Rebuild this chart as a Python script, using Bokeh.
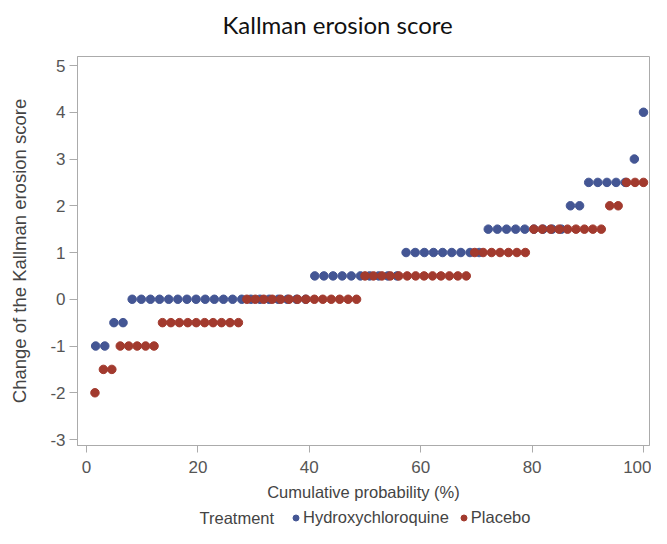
from bokeh.plotting import figure
from bokeh.layouts import column
from bokeh.models import Range1d, Legend, LegendItem, FixedTicker, Label
from bokeh.embed import file_html
from bokeh.resources import INLINE

# Data: sorted change scores per treatment, as (level, count)
hcq_levels = [-1, -0.5, 0, 0.5, 1, 1.5, 2, 2.5, 3, 4]
hcq_counts = [2, 2, 20, 10, 9, 9, 2, 5, 1, 1]
pbo_levels = [-2, -1.5, -1, -0.5, 0, 0.5, 1, 1.5, 2, 2.5]
pbo_counts = [1, 2, 5, 10, 14, 13, 7, 9, 2, 3]
x_ticks = [0, 20, 40, 60, 80, 100]
y_ticks = [-3, -2, -1, 0, 1, 2, 3, 4, 5]
y_tick_labels = ["-3", "-2", "-1", "0", "1", "2", "3", "4", "5"]
series_names = ["Hydroxychloroquine", "Placebo"]
chart_title = "Kallman erosion score"

BLUE = "#445694"
RED = "#A23A2E"
GREY = "#ABABAB"
TXT = "#444444"


def ecdf(levels, counts):
    vals = []
    for lv, c in zip(levels, counts):
        vals.extend([lv] * c)
    n = len(vals)
    xs = [100.0 * (i + 1) / n for i in range(n)]
    return xs, vals


hx, hy = ecdf(hcq_levels, hcq_counts)
px, py = ecdf(pbo_levels, pbo_counts)

W = 651


def strip(height):
    f = figure(width=W, height=height, output_backend="svg", toolbar_location=None,
               x_range=Range1d(0, 1), y_range=Range1d(0, 1),
               x_axis_location=None, y_axis_location=None,
               min_border=0, min_border_left=0, min_border_right=0,
               min_border_top=0, min_border_bottom=0)
    f.xgrid.visible = False
    f.ygrid.visible = False
    f.outline_line_color = None
    f.border_fill_color = "white"
    return f


# title strip (frames in the column are aligned with the chart's frame)
tt = strip(40)
tt.add_layout(Label(x=145, y=16, x_units="screen", y_units="screen", text=chart_title,
                    text_font="Lato", text_font_size="24px", text_color="#111111",
                    text_baseline="middle"))

p = figure(width=W, height=465, output_backend="svg", toolbar_location=None,
           x_range=Range1d(-1.62, 101.08), y_range=Range1d(-3.128, 5.193),
           min_border_left=77, min_border_right=2, min_border_top=16, min_border_bottom=60)

p.scatter(hx, hy, size=8.5, color=BLUE, line_color=BLUE)
p.scatter(px, py, size=8.5, color=RED, line_color=RED)

p.xgrid.visible = False
p.ygrid.visible = False
p.outline_line_color = GREY
p.background_fill_color = "white"
p.border_fill_color = "white"

for ax in (p.xaxis[0], p.yaxis[0]):
    ax.axis_line_color = GREY
    ax.major_tick_line_color = GREY
    ax.minor_tick_line_color = None
    ax.major_tick_in = 0
    ax.major_label_text_font = "Liberation Sans"
    ax.major_label_text_font_size = "17px"
    ax.major_label_text_color = "#555555"
    ax.axis_label_text_font = "Liberation Sans"
    ax.axis_label_text_font_style = "normal"
    ax.axis_label_text_color = TXT

xa, ya = p.xaxis[0], p.yaxis[0]
xa.ticker = FixedTicker(ticks=x_ticks)
ya.ticker = FixedTicker(ticks=y_ticks)
ya.major_label_overrides = dict(zip(y_ticks, y_tick_labels))
xa.major_tick_out = 7
ya.major_tick_out = 8
xa.major_label_standoff = 8
ya.major_label_standoff = 4
xa.axis_label = "Cumulative probability (%)"
ya.axis_label = "Change of the Kallman erosion score"
xa.axis_label_text_font_size = "16.5px"
ya.axis_label_text_font_size = "18.5px"
xa.axis_label_standoff = 7
ya.axis_label_standoff = 17

# legend strip below the chart
lg = strip(23)
l1 = lg.scatter([-5], [-5], size=8, color=BLUE, line_color=BLUE)
l2 = lg.scatter([-5], [-5], size=8, color=RED, line_color=RED)

lg.add_layout(Label(x=122, y=11, x_units="screen", y_units="screen", text="Treatment",
                    text_font="Liberation Sans", text_font_size="16.5px",
                    text_color=TXT, text_baseline="middle"))

legend = Legend(items=[LegendItem(label=series_names[0], renderers=[l1]),
                       LegendItem(label=series_names[1], renderers=[l2])],
                orientation="horizontal", location=(211, 1))
legend.label_text_font = "Liberation Sans"
legend.label_text_font_size = "16.5px"
legend.label_text_color = TXT
legend.border_line_color = None
legend.background_fill_alpha = 0
legend.glyph_width = 15
legend.glyph_height = 15
legend.label_standoff = -3
legend.spacing = 7
legend.padding = 0
legend.margin = 0
lg.add_layout(legend, "center")

layout = column(tt, p, lg, spacing=0)
open("out.html", "w").write(file_html(layout, INLINE))
